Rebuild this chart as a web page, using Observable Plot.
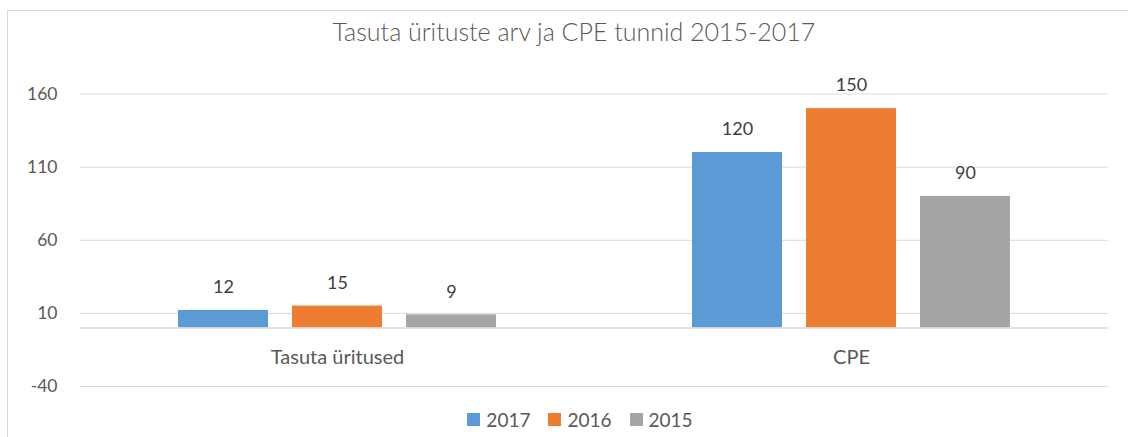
<!DOCTYPE html>
<html>
<head>
<meta charset="utf-8">
<script src="https://cdn.jsdelivr.net/npm/d3@7"></script>
<script src="https://cdn.jsdelivr.net/npm/@observablehq/plot@0.6"></script>
<style>
  html, body { margin: 0; padding: 0; width: 1128px; height: 437px; overflow: hidden; background: #fff; font-family: Lato, "Open Sans", sans-serif; }
  #frame { position: absolute; left: 7px; top: 10px; width: 1200px; height: 500px; border: 1px solid #d9d9d9; box-sizing: border-box; }
  #title { position: absolute; left: 0; top: 16px; width: 1148px; text-align: center; font-size: 25px; font-weight: 300; color: #595959; line-height: 30px; }
  #chart { position: absolute; left: 0; top: 60px; }
  #legend { position: absolute; left: 0; top: 407px; width: 1160px; text-align: center; font-size: 19px; color: #595959; line-height: 24px; }
  #legend .item { display: inline-flex; align-items: center; margin: 0 9px; }
  #legend .sw { width: 13px; height: 13px; display: inline-block; margin-right: 6px; }
</style>
</head>
<body>
<div id="frame"></div>
<div id="title">Tasuta ürituste arv ja CPE tunnid 2015-2017</div>
<div id="chart"></div>
<div id="legend"></div>
<script>
const categories = ["Tasuta üritused", "CPE"];
const years = ["2017", "2016", "2015"];
const values2017 = [12, 120];
const values2016 = [15, 150];
const values2015 = [9, 90];
const yTicks = [-40, 10, 60, 110, 160];
const colors = ["#5b9bd5", "#ed7d31", "#a5a5a5"];

const seriesValues = [values2017, values2016, values2015];
const data = [];
categories.forEach((c, i) => {
  years.forEach((y, j) => data.push({category: c, year: y, value: seriesValues[j][i]}));
});

const chart = Plot.plot({
  width: 1128,
  height: 340,
  marginLeft: 80,
  marginRight: 20,
  marginTop: 33.5,
  marginBottom: 14,
  style: {fontFamily: "Lato, 'Open Sans', sans-serif", background: "transparent"},
  fx: {domain: categories, padding: 0, axis: null},
  x: {domain: years, paddingInner: 0.21, paddingOuter: 0.85, axis: null},
  y: {domain: [-40, 160]},
  color: {domain: years, range: colors},
  marks: [
    Plot.gridY(yTicks, {stroke: "#d9d9d9", strokeOpacity: 1, strokeWidth: 1}),
    Plot.axisY(yTicks, {tickSize: 0, tickPadding: 23, fontSize: 17.5, fill: "#595959", label: null, tickFormat: d => String(d)}),
    Plot.barY(data, {fx: "category", x: "year", y: "value", fill: "year"}),
    Plot.ruleY([0], {stroke: "#d9d9d9", strokeWidth: 1.5}),
    Plot.text(data, {fx: "category", x: "year", y: "value", text: d => String(d.value), dy: -23, fontSize: 18, fill: "#404040"}),
    Plot.text(categories, {fx: d => d, y: () => 0, text: d => d, dy: 30, fontSize: 20, fill: "#595959"})
  ]
});
document.getElementById("chart").appendChild(chart);

const legend = document.getElementById("legend");
years.forEach((y, i) => {
  const item = document.createElement("span");
  item.className = "item";
  const sw = document.createElement("span");
  sw.className = "sw";
  sw.style.background = colors[i];
  item.appendChild(sw);
  item.appendChild(document.createTextNode(y));
  legend.appendChild(item);
});
</script>
</body>
</html>
